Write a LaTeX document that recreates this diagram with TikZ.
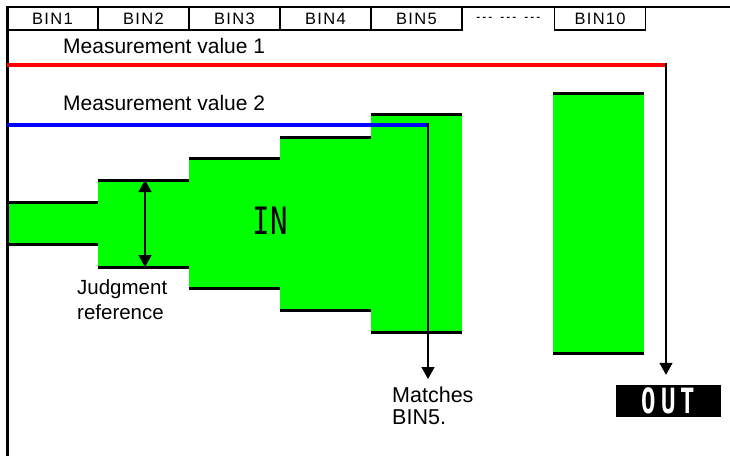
\documentclass[tikz,border=0pt]{standalone}
\usepackage{fontspec}
\usepackage{graphicx}
\setmainfont{Liberation Sans}
\newfontfamily\lcdfont{DejaVu Sans Mono}
\newfontfamily\dashfont{Liberation Mono}
\newfontfamily\binfont[LetterSpace=8]{Liberation Sans}
\usetikzlibrary{arrows.meta,positioning}
\definecolor{bingreen}{RGB}{0,255,0}
\definecolor{mvred}{RGB}{255,0,0}
\definecolor{mvblue}{RGB}{0,0,255}

\begin{document}
\begin{tikzpicture}[x=1pt,y=-1pt,>={Triangle[width=13pt,length=12pt]},
  every node/.style={font=\fontsize{21}{24}\selectfont,inner sep=0pt},
  bincell/.style={draw,line width=1.2pt,minimum width=91pt,minimum height=23pt,
                  font=\binfont\fontsize{16.5}{16.5}\selectfont},
  band/.style={fill=bingreen},
  rim/.style={line width=3pt},
  mline/.style={line width=4pt},
  guide/.style={line width=1.5pt},
  lcd/.style={font=\lcdfont\bfseries\fontsize{24}{24}\selectfont}]
 \useasboundingbox (0,0) rectangle (730,456);
 % bin header
 \foreach \i in {1,...,5}
   \node[bincell] (bin\i) at ({52.5+91*(\i-1)},18.5) {BIN\i};
 \node[minimum width=91pt,minimum height=23pt,font=\dashfont\bfseries\fontsize{10}{10}\selectfont]
   (bindots) [right=0pt of bin5] {--- --- ---};
 \node[bincell] (bin10) [right=0pt of bindots] {BIN10};
 % judgment bands
 \foreach \xa/\xb/\ya/\yb in {7/98/202/244, 98/189/180/267, 189/280/158/288,
     280/371/137/310, 371/462/114/332, 553/644/93/353}{
   \fill[band] (\xa,\ya) rectangle (\xb,\yb);
   \draw[rim] (\xa,\ya) -- (\xb,\ya) (\xa,\yb) -- (\xb,\yb);
 }
 % frame
 \draw[line width=1.5pt] (7,7) -- (730,7);
 \draw[line width=3pt] (7,6) -- (7,456);
 % labels
 \node[anchor=base west] (mv1) at (63,53) {Measurement value 1};
 \node[anchor=base west] (mv2) at (63,110) {Measurement value 2};
 \node[lcd,font=\lcdfont\fontsize{29}{29}\selectfont] (inlabel) at (270,221)
   {\scalebox{1}[1.3]{IN}};
 \node[anchor=north west,align=left,font=\fontsize{20.5}{25}\selectfont] (judge)
   at (77,279) {Judgment\\reference};
 \node[anchor=north west,align=left,font=\fontsize{21.5}{21.5}\selectfont] (match)
   at (392,387) {Matches\\BIN5.};
 \node[lcd,fill=black,text=white,minimum width=105pt,minimum height=32pt] (out)
   at (668.5,401) {\scalebox{1}[1.45]{O\kern5pt U\kern5pt T}};
 % measurement lines
 \coordinate (mv1start) at (7,65);
 \coordinate (mv1turn) at (666,65);
 \coordinate (mv2start) at (7,125);
 \coordinate (mv2turn) at (428,125);
 \draw[mline,mvred] (mv1start) -- (mv1turn);
 \draw[mline,mvblue] (mv2start) -- (mv2turn);
 \draw[guide,->,shorten >=10pt] ([yshift=2pt]mv1turn) -- (mv1turn |- out.north);
 \draw[guide,->,shorten >=8pt] ([yshift=2pt]mv2turn) -- (mv2turn |- match.north);
 % judgment reference width
 \coordinate (reftop) at (145,180);
 \coordinate (refbot) at (145,267);
 \draw[guide,<->] (reftop) -- (refbot);
\end{tikzpicture}
\end{document}
